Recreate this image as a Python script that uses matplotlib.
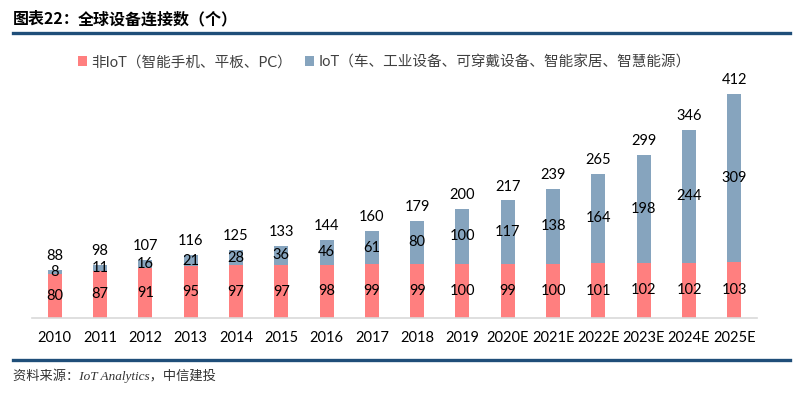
import numpy as np
import matplotlib.pyplot as plt
from matplotlib.lines import Line2D

plt.rcParams['font.family'] = ['Lato', 'Noto Sans CJK SC', 'DejaVu Sans']

# data
years = ['2010', '2011', '2012', '2013', '2014', '2015', '2016', '2017', '2018', '2019',
         '2020E', '2021E', '2022E', '2023E', '2024E', '2025E']
non_iot = [80, 87, 91, 95, 97, 97, 98, 99, 99, 100, 99, 100, 101, 102, 102, 103]
iot = [8, 11, 16, 21, 28, 36, 46, 61, 80, 100, 117, 138, 164, 198, 244, 309]
totals = [88, 98, 107, 116, 125, 133, 144, 160, 179, 200, 217, 239, 265, 299, 346, 412]

pink = '#FF7F7F'
blue = '#86A4BE'

fig = plt.figure(figsize=(8.02, 3.95), dpi=100)
ax = fig.add_axes([32 / 802, 1 - 318 / 395, 725 / 802, 238 / 395])

x = np.arange(len(years))
w = 0.31
ax.bar(x, non_iot, width=w, color=pink, label='非IoT（智能手机、平板、PC）')
ax.bar(x, iot, width=w, bottom=non_iot, color=blue,
       label='IoT（车、工业设备、可穿戴设备、智能家居、智慧能源）')

for i in range(len(years)):
    ax.text(x[i], non_iot[i] / 2, str(non_iot[i]), ha='center', va='center', fontsize=10.5)
    ax.text(x[i], non_iot[i] + iot[i] / 2, str(iot[i]), ha='center', va='center', fontsize=10.5)
    ax.annotate(str(totals[i]), (x[i], non_iot[i] + iot[i]), xytext=(0, 5),
                textcoords='offset points', ha='center', va='bottom', fontsize=10.5)

ax.set_xlim(-0.5, len(years) - 0.5)
ax.set_ylim(0, 437.5)
ax.set_yticks([])
ax.set_xticks(x)
ax.set_xticklabels(years, fontsize=10.5)
ax.tick_params(axis='x', length=0, pad=9)
for s in ['top', 'right', 'left']:
    ax.spines[s].set_visible(False)
ax.spines['bottom'].set_color('#D9D9D9')
ax.spines['bottom'].set_linewidth(1.2)

leg = ax.legend(loc='upper left', bbox_to_anchor=(0.046, 1.16), ncol=2, frameon=False,
                fontsize=10.5, handlelength=0.6, handleheight=0.6, handletextpad=0.3,
                columnspacing=0.9)
for t in leg.get_texts():
    t.set_color('#404040')

# header and footer
fig.text(13 / 802, 1 - 19 / 395, '图表22：', fontsize=11.5, fontweight='bold', va='center',
         family=['Noto Sans CJK SC'])
fig.text(78 / 802, 1 - 19 / 395, '全球设备连接数（个）', fontsize=11.5, fontweight='bold',
         va='center', family=['Noto Sans CJK SC'])
fig.add_artist(Line2D([13 / 802, 790 / 802], [1 - 33 / 395, 1 - 33 / 395],
                      color='#1F4E79', linewidth=2.4, transform=fig.transFigure))
fig.add_artist(Line2D([13 / 802, 790 / 802], [1 - 360 / 395, 1 - 360 / 395],
                      color='#1F4E79', linewidth=2.4, transform=fig.transFigure))
fig.text(13 / 802, 1 - 376 / 395, '资料来源：IoT Analytics，中信建投', fontsize=9.5,
         style='italic', va='center', color='#333333',
         family=['Liberation Serif', 'Noto Sans CJK SC'])

fig.savefig('out.png', dpi=100)
